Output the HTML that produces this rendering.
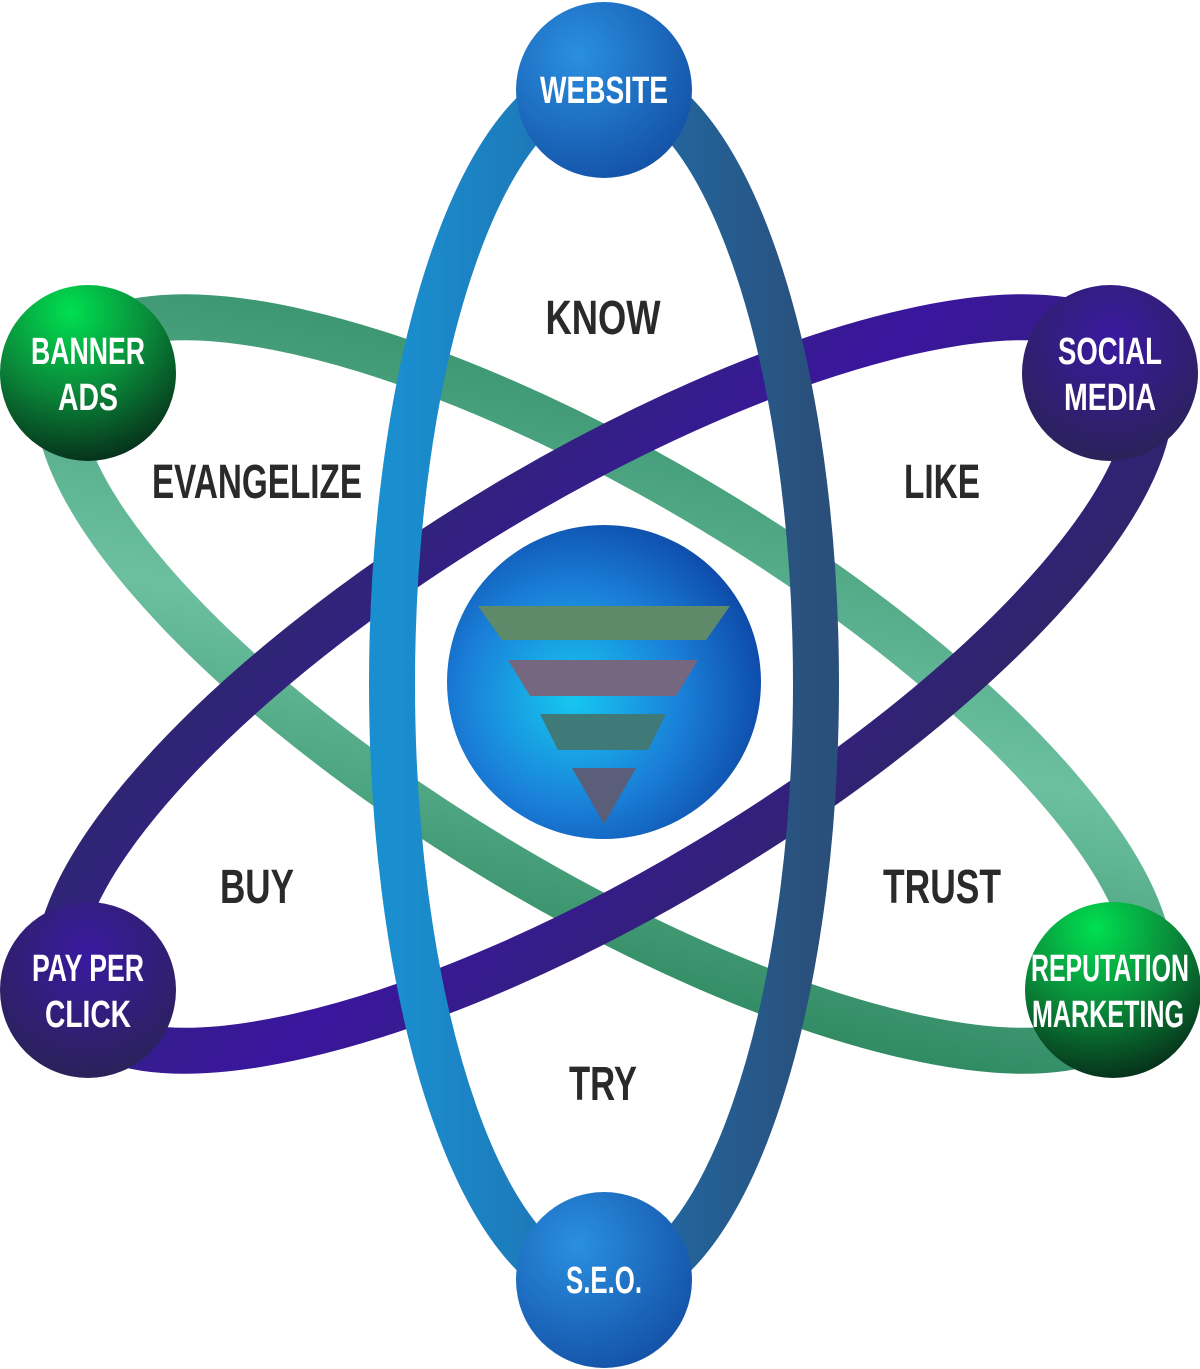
<!DOCTYPE html>
<html><head><meta charset="utf-8"><style>
html,body{margin:0;padding:0;background:#fff;}
svg{display:block}
text{font-family:"Liberation Sans",sans-serif;font-weight:bold;text-anchor:middle}
</style></head><body>
<svg width="1200" height="1369" viewBox="0 0 1200 1369" xmlns="http://www.w3.org/2000/svg">
<defs>
<linearGradient id="gv" x1="0" y1="0" x2="1" y2="0">
<stop offset="0" stop-color="#1a8fd0"/><stop offset="0.5" stop-color="#1f6fae"/><stop offset="1" stop-color="#2a4f7a"/></linearGradient>
<linearGradient id="gg" x1="0" y1="0" x2="1" y2="1">
<stop offset="0" stop-color="#2e8a63"/><stop offset="0.5" stop-color="#6cc0a0"/><stop offset="1" stop-color="#1e7a50"/></linearGradient>
<linearGradient id="gp" x1="0" y1="0" x2="1" y2="1">
<stop offset="0" stop-color="#2b2a66"/><stop offset="0.5" stop-color="#3a169e"/><stop offset="1" stop-color="#2c2a5c"/></linearGradient>
<radialGradient id="nb" cx="0.35" cy="0.3" r="0.75"><stop offset="0" stop-color="#2a8fe0"/><stop offset="1" stop-color="#1453a8"/></radialGradient>
<radialGradient id="ng" cx="0.4" cy="0.15" r="0.9"><stop offset="0" stop-color="#00e050"/><stop offset="0.5" stop-color="#0a8a3a"/><stop offset="1" stop-color="#062a18"/></radialGradient>
<radialGradient id="np" cx="0.5" cy="0.3" r="0.8"><stop offset="0" stop-color="#3a1aa0"/><stop offset="1" stop-color="#28234f"/></radialGradient>
<radialGradient id="sph" cx="0.4" cy="0.55" r="0.7"><stop offset="0" stop-color="#16c8f0"/><stop offset="0.5" stop-color="#1a7fd8"/><stop offset="1" stop-color="#0a3a9a"/></radialGradient>
</defs>
<g fill="none">
<ellipse cx="604" cy="684" rx="625" ry="205" transform="rotate(31 604 684)" stroke="url(#gg)" stroke-width="46"/>
<ellipse cx="604" cy="684" rx="625" ry="205" transform="rotate(-31 604 684)" stroke="url(#gp)" stroke-width="46"/>
<ellipse cx="604" cy="684" rx="212" ry="605" stroke="url(#gv)" stroke-width="46"/>
</g>
<circle cx="604" cy="682" r="157" fill="url(#sph)"/>
<polygon points="478,606 730,606 706,640 502,640" fill="#5f8a6a"/>
<polygon points="508,660 698,660 676,696 530,696" fill="#756780"/>
<polygon points="540,714 666,714 648,750 558,750" fill="#3f7a78"/>
<polygon points="572,768 636,768 604,824" fill="#5a5e78"/>
<circle cx="604" cy="90" r="88" fill="url(#nb)"/>
<circle cx="604" cy="1280" r="88" fill="url(#nb)"/>
<circle cx="88" cy="373" r="88" fill="url(#ng)"/>
<circle cx="1113" cy="990" r="88" fill="url(#ng)"/>
<circle cx="1110" cy="373" r="88" fill="url(#np)"/>
<circle cx="88" cy="990" r="88" fill="url(#np)"/>
<g fill="#fff" font-size="38" lengthAdjust="spacingAndGlyphs">
<text x="604" y="103" textLength="128" lengthAdjust="spacingAndGlyphs">WEBSITE</text>
<text x="604" y="1293" textLength="76" lengthAdjust="spacingAndGlyphs">S.E.O.</text>
<text x="88" y="364" textLength="114" lengthAdjust="spacingAndGlyphs">BANNER</text><text x="88" y="410" textLength="60" lengthAdjust="spacingAndGlyphs">ADS</text>
<text x="1110" y="364" textLength="104" lengthAdjust="spacingAndGlyphs">SOCIAL</text><text x="1110" y="410" textLength="92" lengthAdjust="spacingAndGlyphs">MEDIA</text>
<text x="88" y="981" textLength="112" lengthAdjust="spacingAndGlyphs">PAY PER</text><text x="88" y="1027" textLength="86" lengthAdjust="spacingAndGlyphs">CLICK</text>
<text x="1110" y="981" textLength="158" lengthAdjust="spacingAndGlyphs">REPUTATION</text><text x="1108" y="1027" textLength="152" lengthAdjust="spacingAndGlyphs">MARKETING</text>
</g>
<g fill="#2a2a2a" font-size="48">
<text x="603" y="334" textLength="115" lengthAdjust="spacingAndGlyphs">KNOW</text>
<text x="257" y="498" textLength="210" lengthAdjust="spacingAndGlyphs">EVANGELIZE</text>
<text x="942" y="498" textLength="76" lengthAdjust="spacingAndGlyphs">LIKE</text>
<text x="257" y="903" textLength="74" lengthAdjust="spacingAndGlyphs">BUY</text>
<text x="942" y="903" textLength="118" lengthAdjust="spacingAndGlyphs">TRUST</text>
<text x="603" y="1100" textLength="68" lengthAdjust="spacingAndGlyphs">TRY</text>
</g>
</svg>
</body></html>
